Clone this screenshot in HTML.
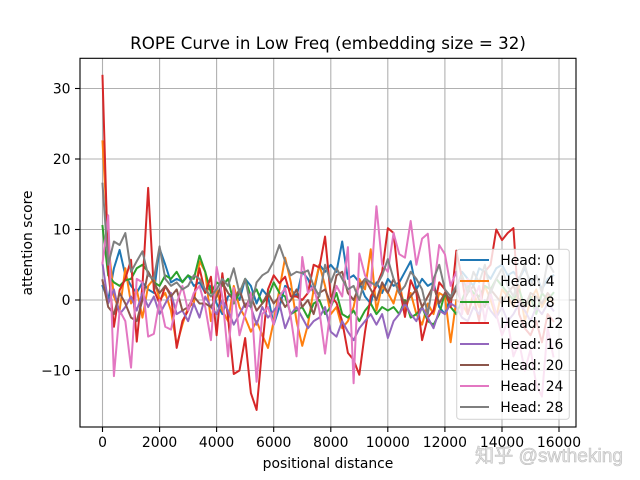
<!DOCTYPE html>
<html><head><meta charset="utf-8"><style>
html,body{margin:0;padding:0;background:#fff;}
svg{display:block;}
text{font-family:"DejaVu Sans","Liberation Sans",sans-serif;fill:#000;}
</style></head><body>
<svg width="640" height="480" viewBox="0 0 640 480" xmlns="http://www.w3.org/2000/svg">
<rect x="0" y="0" width="640" height="480" fill="#fff"/>
<!-- grid -->
<g stroke="#b0b0b0" stroke-width="1.1">
<line x1="102.5" y1="58.3" x2="102.5" y2="427"/>
<line x1="159.6" y1="58.3" x2="159.6" y2="427"/>
<line x1="216.6" y1="58.3" x2="216.6" y2="427"/>
<line x1="273.7" y1="58.3" x2="273.7" y2="427"/>
<line x1="330.8" y1="58.3" x2="330.8" y2="427"/>
<line x1="387.8" y1="58.3" x2="387.8" y2="427"/>
<line x1="444.9" y1="58.3" x2="444.9" y2="427"/>
<line x1="502" y1="58.3" x2="502" y2="427"/>
<line x1="559" y1="58.3" x2="559" y2="427"/>
<line x1="80" y1="88.5" x2="576" y2="88.5"/>
<line x1="80" y1="159" x2="576" y2="159"/>
<line x1="80" y1="229.5" x2="576" y2="229.5"/>
<line x1="80" y1="300" x2="576" y2="300"/>
<line x1="80" y1="370.5" x2="576" y2="370.5"/>
</g>
<!-- series -->
<g transform="translate(102.5,300) scale(5.707,-7.05)" fill="none" stroke-width="2" stroke-linejoin="round" stroke-linecap="square">
<polyline vector-effect="non-scaling-stroke" stroke="#1f77b4" points="0,2 1,0 2,4.5 3,7.1 4,3.5 5,2 6,1 7,2.5 8,1.5 9,1 10,7.3 11,5 12,2.5 13,3 14,2.6 15,3.5 16,2 17,2.5 18,1 19,2 20,-0.5 21,-2 22,0.5 23,1 24,0 25,3 26,2 27,-0.5 28,1.5 29,0.5 30,-3.5 31,-1 32,2 33,1.5 34,0.5 35,4 36,3 37,1 38,5 39,4 40,5 41,4 42,8.3 43,3 44,3.5 45,2.5 46,0.5 47,-0.5 48,2.5 49,1 50,3 51,2 52,2.5 53,4 54,5.5 55,1.5 56,3 57,2 58,2.5 59,-1 60,-2 61,0.5 62,1.5 63,4 64,3 65,2 66,4.5 67,4 68,3 69,4.5 70,5 71,3.5 72,4 73,3 74,4.5 75,2.5 76,3.5 77,1.5 78,3 79,3.5"/>
<polyline vector-effect="non-scaling-stroke" stroke="#ff7f0e" points="0,22.5 1,8 2,0.5 3,-1.5 4,4.5 5,-0.5 6,1.5 7,-2.5 8,2 9,3 10,0 11,1 12,-1.5 13,-6.4 14,-3.5 15,-1 16,-0.5 17,5.5 18,4 19,-3 20,1.5 21,-1.5 22,-3 23,2 24,-1 25,-2.5 26,-4.5 27,-3 28,-5 29,-6.8 30,-3 31,1.5 32,6 33,2.5 34,-3 35,-6.5 36,-3.5 37,1.5 38,5 39,2 40,-2 41,-1 42,-4 43,-3 44,-1 45,3 46,1.5 47,7.2 48,-1.5 49,2 50,1 51,-0.5 52,2.5 53,-1.5 54,1 55,-2 56,-3.5 57,-0.5 58,-2 59,1 60,0.5 61,-6 62,0 63,-0.5 64,-2 65,1 66,-1 67,2 68,0 69,-2.5 70,1.5 71,0.5 72,-1 73,2 74,-3 75,0 76,1.5 77,-1 78,0.5 79,-0.5"/>
<polyline vector-effect="non-scaling-stroke" stroke="#2ca02c" points="0,10.5 1,3.5 2,2.5 3,2 4,2.8 5,3 6,4.5 7,5 8,4 9,2.5 10,2 11,3.5 12,3 13,4 14,2.5 15,3.5 16,3 17,6.3 18,4 19,1 20,2.5 21,2 22,3 23,-0.5 24,1 25,3 26,0.5 27,1.5 28,-0.5 29,0.5 30,2.5 31,1 32,0.5 33,-2 34,-1.5 35,-1 36,-2.5 37,-0.5 38,0 39,-2 40,-1 41,1 42,-2 43,-2.5 44,-1.5 45,-3 46,-1.5 47,-0.5 48,-2 49,-1 50,-1.5 51,-1 52,-2 53,0 54,-2.5 55,-2 56,-1 57,-3 58,-3.5 59,-2 60,1 61,-1 62,-2 63,0 64,2 65,1 66,0.5 67,2 68,1.5 69,3 70,2 71,1 72,0 73,1.5 74,-1 75,0.5 76,-2 77,1 78,0 79,1"/>
<polyline vector-effect="non-scaling-stroke" stroke="#d62728" points="0,31.8 1,4.5 2,-3.8 3,1.4 4,3 5,5.7 6,-5.9 7,2 8,15.9 9,1.4 10,-0.5 11,2 12,0.8 13,-6.8 14,-3 15,-1.5 16,0.5 17,4.5 18,1 19,3.3 20,-5 21,3.8 22,-2.5 23,-10.5 24,-10 25,-5.4 26,-13.2 27,-15.6 28,-6.6 29,1.5 30,3.5 31,2.4 32,3.3 33,0.5 34,0.5 35,0 36,1 37,5 38,4.6 39,9 40,0.5 41,-0.4 42,-3 43,-7.5 44,-8.5 45,-10.6 46,-4.5 47,0.5 48,2 49,4 50,10.2 51,9.5 52,1.9 53,-2.4 54,2.8 55,1 56,-5.7 57,-2.5 58,-1.5 59,2.5 60,1.5 61,-1 62,7 63,3 64,-2 65,0.5 66,-3 67,4 68,5 69,10 70,8.5 71,9.5 72,10.2 73,-2 74,-4 75,-5 76,-3 77,-6 78,-2 79,-3"/>
<polyline vector-effect="non-scaling-stroke" stroke="#9467bd" points="0,5.2 1,-0.5 2,1.5 3,-2 4,-1 5,0.5 6,-1.5 7,1 8,-1 9,0.5 10,-2 11,-0.5 12,1 13,-2 14,-1.5 15,-3 16,-0.5 17,-2.5 18,0.5 19,-1 20,-2 21,0 22,-1.5 23,-3.5 24,-2 25,-0.5 26,-1 27,-3.5 28,-1 29,-2.5 30,-1.5 31,-0.5 32,-4 33,-2 34,-1 35,-2.5 36,-4 37,-3 38,-2.5 39,-1 40,-4.5 41,-5.2 42,-3 43,-4.5 44,-5.7 45,-4 46,-3 47,-2 48,-3.5 49,-2 50,-5.4 51,-3 52,-2 53,-0.5 54,-2 55,-3 56,-1 57,-2.5 58,-4 59,-1.5 60,-2 61,-0.5 62,-1 63,-2.5 64,-3 65,-1 66,-2 67,0 68,-1.5 69,-2.5 70,-1 71,-3 72,-2 73,-0.5 74,-1.5 75,-3 76,-1 77,-2 78,-0.5 79,-1.5"/>
<polyline vector-effect="non-scaling-stroke" stroke="#8c564b" points="0,2.8 1,-1 2,-2 3,1 4,-0.5 5,-2.5 6,-3 7,0 8,4 9,2.5 10,1 11,2 12,0.5 13,1.5 14,-1.5 15,-1 16,0.5 17,-0.5 18,-0.5 19,-1 20,0.5 21,2.5 22,1 23,0 24,1.5 25,-1 26,0.5 27,-1.5 28,-0.5 29,1 30,-0.5 31,0.5 32,-1 33,0 34,1.5 35,-1 36,0 37,-2 38,1 39,1.5 40,-0.5 41,3.5 42,4 43,1 44,0 45,2 46,3 47,1.5 48,0 49,2.5 50,1 51,3 52,1 53,-0.5 54,0.5 55,1.5 56,-1 57,0.5 58,2 59,-0.5 60,1 61,0 62,1.5 63,-0.5 64,1 65,2 66,0 67,-1 68,1.5 69,0.5 70,-0.5 71,1 72,2 73,0 74,-1 75,1 76,0.5 77,-0.5 78,1 79,0"/>
<polyline vector-effect="non-scaling-stroke" stroke="#e377c2" points="0,5.2 1,12 2,-10.8 3,-1.5 4,-3 5,-9.6 6,3 7,2.5 8,-5.2 9,-4.8 10,0 11,-3.8 12,-4.2 13,-0.5 14,2 15,-1.5 16,1 17,2 18,-1 19,-5.7 20,4.7 21,0.5 22,-8 23,1.7 24,-5 25,-2 26,1 27,-11.6 28,-2 29,-1 30,-3.5 31,0.5 32,1.7 33,-2.5 34,-8 35,6.1 36,1 37,2 38,-1.5 39,-7.6 40,-1 41,2 42,0.5 43,7.5 44,-11.8 45,6.6 46,3.5 47,2 48,13.3 49,5 50,4 51,9.5 52,6.5 53,6 54,11.2 55,5 56,8.7 57,9.4 58,1.4 59,7.8 60,6.5 61,2 62,4 63,-2 64,3 65,0 66,2 67,-3 68,1 69,-2 70,-5 71,-3 72,-8 73,-6 74,-10 75,-7 76,-12 77,-13.7 78,-4 79,-8"/>
<polyline vector-effect="non-scaling-stroke" stroke="#7f7f7f" points="0,16.5 1,5 2,8.3 3,7.8 4,9.5 5,4 6,5.5 7,6.9 8,3.5 9,3 10,7.6 11,3 12,2 13,2.5 14,1.5 15,2 16,3.5 17,3 18,1.5 19,0.5 20,1.5 21,3 22,2 23,4.5 24,1 25,3 26,-1 27,2.5 28,3.5 29,4 30,5.5 31,7.8 32,5.5 33,3.5 34,4 35,3.8 36,4.2 37,2 38,0.5 39,5 40,2.5 41,4.5 42,3 43,1.5 44,2 45,0 46,3 47,2.5 48,2 49,3.5 50,5.8 51,3 52,1 53,2 54,4 55,3 56,1.5 57,-2 58,3 59,5 60,1.5 61,0.5 62,2 63,3.5 64,1 65,4 66,2.5 67,5 68,1 69,3 70,4.5 71,2 72,0.5 73,3 74,5 75,2 76,3.5 77,1 78,5.5 79,4"/>
</g>
<!-- spines -->
<rect x="80" y="58.3" width="496" height="368.7" fill="none" stroke="#000" stroke-width="1.1"/>
<!-- ticks -->
<g stroke="#000" stroke-width="1.1">
<line x1="102.5" y1="427" x2="102.5" y2="432"/>
<line x1="159.6" y1="427" x2="159.6" y2="432"/>
<line x1="216.6" y1="427" x2="216.6" y2="432"/>
<line x1="273.7" y1="427" x2="273.7" y2="432"/>
<line x1="330.8" y1="427" x2="330.8" y2="432"/>
<line x1="387.8" y1="427" x2="387.8" y2="432"/>
<line x1="444.9" y1="427" x2="444.9" y2="432"/>
<line x1="502" y1="427" x2="502" y2="432"/>
<line x1="559" y1="427" x2="559" y2="432"/>
<line x1="75" y1="88.5" x2="80" y2="88.5"/>
<line x1="75" y1="159" x2="80" y2="159"/>
<line x1="75" y1="229.5" x2="80" y2="229.5"/>
<line x1="75" y1="300" x2="80" y2="300"/>
<line x1="75" y1="370.5" x2="80" y2="370.5"/>
</g>
<g font-size="13.9" text-anchor="middle">
<text x="102.5" y="447">0</text>
<text x="159.6" y="447">2000</text>
<text x="216.6" y="447">4000</text>
<text x="273.7" y="447">6000</text>
<text x="330.8" y="447">8000</text>
<text x="387.8" y="447">10000</text>
<text x="444.9" y="447">12000</text>
<text x="502" y="447">14000</text>
<text x="559" y="447">16000</text>
</g>
<g font-size="13.9" text-anchor="end">
<text x="70.5" y="93.5">30</text>
<text x="70.5" y="164">20</text>
<text x="70.5" y="234.5">10</text>
<text x="70.5" y="305">0</text>
<text x="70.5" y="375.5">−10</text>
</g>
<text x="328" y="468" font-size="13.9" text-anchor="middle">positional distance</text>
<text transform="translate(32,243) rotate(-90)" font-size="13.9" text-anchor="middle">attention score</text>
<text x="328" y="49" font-size="16.7" text-anchor="middle">ROPE Curve in Low Freq (embedding size = 32)</text>
<!-- legend -->
<rect x="456.7" y="249.3" width="112.6" height="170" rx="3" ry="3" fill="#fff" fill-opacity="0.8" stroke="#cccccc" stroke-opacity="0.8" stroke-width="1.1"/>
<g stroke-width="2" stroke-linecap="square">
<line x1="461" y1="260" x2="488" y2="260" stroke="#1f77b4"/>
<line x1="461" y1="281" x2="488" y2="281" stroke="#ff7f0e"/>
<line x1="461" y1="302" x2="488" y2="302" stroke="#2ca02c"/>
<line x1="461" y1="323" x2="488" y2="323" stroke="#d62728"/>
<line x1="461" y1="344" x2="488" y2="344" stroke="#9467bd"/>
<line x1="461" y1="365" x2="488" y2="365" stroke="#8c564b"/>
<line x1="461" y1="386" x2="488" y2="386" stroke="#e377c2"/>
<line x1="461" y1="407" x2="488" y2="407" stroke="#7f7f7f"/>
</g>
<g font-size="13.9">
<text x="500.3" y="265">Head: 0</text>
<text x="500.3" y="286">Head: 4</text>
<text x="500.3" y="307">Head: 8</text>
<text x="500.3" y="328">Head: 12</text>
<text x="500.3" y="349">Head: 16</text>
<text x="500.3" y="370">Head: 20</text>
<text x="500.3" y="391">Head: 24</text>
<text x="500.3" y="412">Head: 28</text>
</g>
<!-- watermark -->
<text x="475" y="462" font-size="19" textLength="148" lengthAdjust="spacingAndGlyphs" style="font-family:'Liberation Sans','Noto Sans CJK SC',sans-serif;fill:#e6e6e6;stroke:#bdbdbd;stroke-width:0.6">知乎 @swtheking</text>
</svg>
</body></html>
